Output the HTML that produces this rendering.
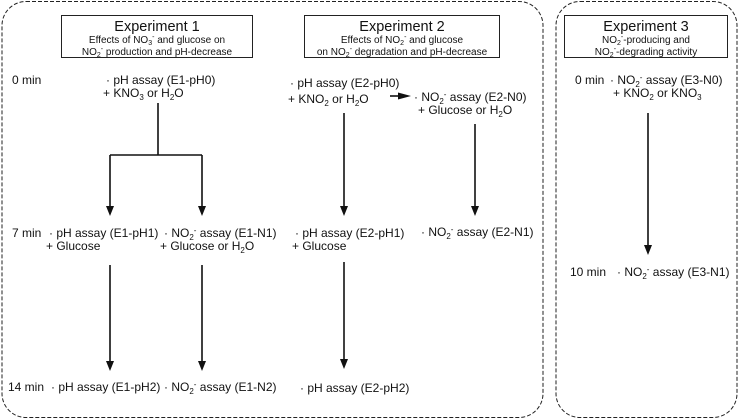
<!DOCTYPE html>
<html><head><meta charset="utf-8"><style>
html,body{margin:0;padding:0;background:#fff;}
svg{display:block;font-family:"Liberation Sans",Arial,sans-serif;}
text{fill:#111;}
.t{font-size:12px;}
.h{font-size:14.5px;}
.s{font-size:10px;}
</style></head><body>
<svg width="742" height="420" viewBox="0 0 742 420" xmlns="http://www.w3.org/2000/svg">
<rect x="2" y="1.5" width="541" height="416" rx="24" fill="none" stroke="#222" stroke-width="1" stroke-dasharray="4,2"/>
<rect x="556" y="1.5" width="181" height="416" rx="24" fill="none" stroke="#222" stroke-width="1" stroke-dasharray="4,2"/>
<g fill="none" stroke="#222" stroke-width="1">
<rect x="61.5" y="15.5" width="191" height="42"/>
<rect x="304.5" y="15.5" width="195" height="42"/>
<rect x="564.5" y="15.5" width="163" height="42"/>
</g>
<g text-anchor="middle">
<text class="h" x="157" y="31">Experiment 1</text>
<text class="s" x="157" y="43">Effects of NO<tspan dy="2" font-size="7">3</tspan><tspan dy="-6" font-size="7">-</tspan><tspan dy="4"> and glucose on</tspan></text>
<text class="s" x="157" y="55">NO<tspan dy="2" font-size="7">2</tspan><tspan dy="-6" font-size="7">-</tspan><tspan dy="4"> production and pH-decrease</tspan></text>
<text class="h" x="402" y="31">Experiment 2</text>
<text class="s" x="402" y="43">Effects of NO<tspan dy="2" font-size="7">2</tspan><tspan dy="-6" font-size="7">-</tspan><tspan dy="4"> and glucose</tspan></text>
<text class="s" x="402" y="55">on NO<tspan dy="2" font-size="7">2</tspan><tspan dy="-6" font-size="7">-</tspan><tspan dy="4"> degradation and pH-decrease</tspan></text>
<text class="h" x="646" y="31">Experiment 3</text>
<text class="s" x="646" y="43">NO<tspan dy="2" font-size="7">2</tspan><tspan dy="-6" font-size="7">-</tspan><tspan dy="4">-producing and</tspan></text>
<text class="s" x="646" y="55">NO<tspan dy="2" font-size="7">2</tspan><tspan dy="-6" font-size="7">-</tspan><tspan dy="4">-degrading activity</tspan></text>
</g>
<g class="t">
<text x="12" y="84">0 min</text>
<text x="106" y="84">·  pH assay (E1-pH0)</text>
<text x="103" y="97">+ KNO<tspan dy="3" font-size="8">3</tspan><tspan dy="-3"> or H</tspan><tspan dy="3" font-size="8">2</tspan><tspan dy="-3">O</tspan></text>
<text x="290" y="87">·  pH assay (E2-pH0)</text>
<text x="288" y="103">+ KNO<tspan dy="3" font-size="8">2</tspan><tspan dy="-3"> or H</tspan><tspan dy="3" font-size="8">2</tspan><tspan dy="-3">O</tspan></text>
<text x="414" y="101">·  NO<tspan dy="3" font-size="8">2</tspan><tspan dy="-7" font-size="8">-</tspan><tspan dy="4"> assay (E2-N0)</tspan></text>
<text x="418" y="114">+ Glucose or H<tspan dy="3" font-size="8">2</tspan><tspan dy="-3">O</tspan></text>
<text x="575" y="84">0 min</text>
<text x="610" y="84">·  NO<tspan dy="3" font-size="8">2</tspan><tspan dy="-7" font-size="8">-</tspan><tspan dy="4"> assay (E3-N0)</tspan></text>
<text x="613" y="97">+ KNO<tspan dy="3" font-size="8">2</tspan><tspan dy="-3"> or KNO</tspan><tspan dy="3" font-size="8">3</tspan></text>

<text x="12" y="237">7 min</text>
<text x="49" y="237">·  pH assay (E1-pH1)</text>
<text x="46" y="250">+ Glucose</text>
<text x="164" y="237">·  NO<tspan dy="3" font-size="8">2</tspan><tspan dy="-7" font-size="8">-</tspan><tspan dy="4"> assay (E1-N1)</tspan></text>
<text x="160" y="250">+ Glucose or H<tspan dy="3" font-size="8">2</tspan><tspan dy="-3">O</tspan></text>
<text x="295" y="237">·  pH assay (E2-pH1)</text>
<text x="292" y="250">+ Glucose</text>
<text x="421" y="236">·  NO<tspan dy="3" font-size="8">2</tspan><tspan dy="-7" font-size="8">-</tspan><tspan dy="4"> assay (E2-N1)</tspan></text>
<text x="570" y="276">10 min</text>
<text x="617" y="276">·  NO<tspan dy="3" font-size="8">2</tspan><tspan dy="-7" font-size="8">-</tspan><tspan dy="4"> assay (E3-N1)</tspan></text>

<text x="8" y="391">14 min</text>
<text x="51" y="391">·  pH assay (E1-pH2)</text>
<text x="164" y="391">·  NO<tspan dy="3" font-size="8">2</tspan><tspan dy="-7" font-size="8">-</tspan><tspan dy="4"> assay (E1-N2)</tspan></text>
<text x="300" y="392">·  pH assay (E2-pH2)</text>
</g>
<g stroke="#111" stroke-width="1.6" fill="none">
<path d="M158,103 V155 M110,155 H202"/>
<line x1="110" y1="155" x2="110" y2="207"/>
<line x1="202" y1="155" x2="202" y2="207"/>
<line x1="110" y1="265" x2="110" y2="362"/>
<line x1="202" y1="265" x2="202" y2="362"/>
<line x1="344" y1="113" x2="344" y2="207"/>
<line x1="344" y1="262" x2="344" y2="360"/>
<line x1="475" y1="124" x2="475" y2="207"/>
<line x1="390" y1="96" x2="400" y2="96"/>
<line x1="648" y1="113" x2="648" y2="246"/>
</g>
<g fill="#111">
<polygon points="106,206 114,206 110,216"/>
<polygon points="198,206 206,206 202,216"/>
<polygon points="106,361 114,361 110,371"/>
<polygon points="198,361 206,361 202,371"/>
<polygon points="340,206 348,206 344,216"/>
<polygon points="340,359 348,359 344,369"/>
<polygon points="471,206 479,206 475,216"/>
<polygon points="644,245 652,245 648,255"/>
<polygon points="398,92.5 411,96 398,99.5"/>
</g>
</svg>
</body></html>
